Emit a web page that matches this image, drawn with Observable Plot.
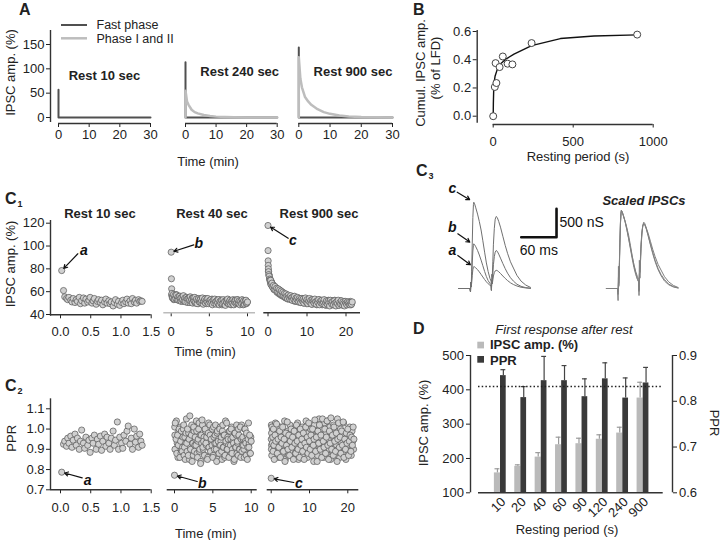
<!DOCTYPE html>
<html><head><meta charset="utf-8">
<script src="https://cdn.jsdelivr.net/npm/d3@7"></script>
<script src="https://cdn.jsdelivr.net/npm/@observablehq/plot@0.6"></script>
<style>
body{margin:0;background:#fff;}
#fig{position:relative;width:720px;height:540px;overflow:hidden;background:#fff;}
#fig svg{position:absolute;left:0;top:0;}
</style></head><body><div id="fig"></div>
<script>
// ================= DATA =================
// Panel A
const aTitles = ["Rest 10 sec", "Rest 240 sec", "Rest 900 sec"];
const aTicks = [0, 10, 20, 30];
const aYTicks = [0, 50, 100, 150];
const fastT = [0, 0, 30];
const fast10 = [57, 0, 0];
const fast240 = [113.5, 0, 0];
const fast900 = [144, 0, 0];
const phaseT = [0, 0, 0.5, 1, 2, 3, 4, 6, 8, 10, 13, 16, 20, 25, 30];
const phase240 = [0, 55, 33, 26, 16, 11, 8.5, 5, 3, 1.8, 0.9, 0.4, 0.1, 0, 0];
const phase900 = [0, 124, 80, 62, 42, 33, 26, 17, 11, 7.5, 4, 2, 0.8, 0.3, 0];

// Panel B
const restB = [0, 10, 15, 20, 40, 60, 90, 120, 240, 900];
const cumB = [0, 0.207, 0.376, 0.235, 0.348, 0.423, 0.372, 0.367, 0.518, 0.578];
const fitT = [0, 1, 3, 6, 12, 25, 45, 80, 130, 240, 420, 630, 900];
const fitV = [0, 0.09, 0.18, 0.24, 0.285, 0.33, 0.37, 0.405, 0.44, 0.5, 0.55, 0.568, 0.576];

// Panel C1 / C2 : time (min)
const t10 = [0.02, 0.05, 0.07, 0.10, 0.12, 0.14, 0.17, 0.19, 0.21, 0.24,
  0.26, 0.28, 0.31, 0.33, 0.35, 0.38, 0.40, 0.42, 0.45, 0.47,
  0.49, 0.52, 0.54, 0.56, 0.59, 0.61, 0.63, 0.66, 0.68, 0.70,
  0.73, 0.75, 0.77, 0.80, 0.82, 0.84, 0.87, 0.89, 0.91, 0.94,
  0.96, 0.98, 1.01, 1.03, 1.05, 1.08, 1.10, 1.12, 1.15, 1.17,
  1.19, 1.22, 1.24, 1.26, 1.29, 1.31, 1.33, 1.35];
const ampR10 = [78.5, 61, 55.5, 54, 53, 55, 52.5, 51, 54, 50.5,
  53, 51.5, 55, 49.5, 52, 54.5, 50, 53.5, 51, 52.5,
  55, 50, 52, 54, 49, 51.5, 53, 50.5, 52.5, 48.5,
  51, 53.5, 50, 52, 49.5, 51, 47.5, 50.5, 53, 49,
  51.5, 48, 50.5, 52.5, 49.5, 51, 53.5, 50, 52, 49.5,
  54, 51, 52.5, 50, 53, 51.5, 52, 51.5];
const pprR10 = [0.787, 0.925, 0.94, 0.915, 0.955, 0.93, 0.965, 0.91, 0.945, 0.975,
  0.92, 0.955, 0.9, 0.94, 0.995, 0.93, 0.905, 0.96, 0.92, 0.945,
  0.885, 0.955, 0.93, 0.97, 0.9, 0.95, 0.925, 0.965, 0.895, 0.94,
  0.975, 0.915, 0.96, 0.93, 0.9, 0.955, 0.99, 0.92, 0.945, 1.035,
  0.9, 0.96, 0.93, 0.905, 0.97, 0.94, 0.99, 1.015, 0.925, 0.955,
  0.9, 1.0, 0.935, 0.965, 0.91, 0.975, 0.94, 0.92];

const t40 = [0, 0.03, 0.06, 0.1, 0.2, 0.3, 0.4, 0.5, 0.6, 0.7,
  0.8, 0.9, 1.0, 1.1, 1.2, 1.3, 1.4, 1.5, 1.6, 1.7,
  1.8, 1.9, 2.0, 2.1, 2.2, 2.3, 2.4, 2.5, 2.6, 2.7,
  2.8, 2.9, 3.0, 3.1, 3.2, 3.3, 3.4, 3.5, 3.6, 3.7,
  3.8, 3.9, 4.0, 4.1, 4.2, 4.3, 4.4, 4.5, 4.6, 4.7,
  4.8, 4.9, 5.0, 5.1, 5.2, 5.3, 5.4, 5.5, 5.6, 5.7,
  5.8, 5.9, 6.0, 6.1, 6.2, 6.3, 6.4, 6.5, 6.6, 6.7,
  6.8, 6.9, 7.0, 7.1, 7.2, 7.3, 7.4, 7.5, 7.6, 7.7,
  7.8, 7.9, 8.0, 8.1, 8.2, 8.3, 8.4, 8.5, 8.6, 8.7,
  8.8, 8.9, 9.0, 9.1, 9.2, 9.3, 9.4, 9.5, 9.6, 9.7,
  9.8, 9.9, 10.0];
const ampR40 = [94.6, 71.3, 62.5, 58.5, 55, 57.5, 53.5, 56.5, 54, 57,
  53, 55.5, 52.5, 56, 54, 51.5, 55, 53, 56.5, 52,
  54.5, 51, 55, 53.5, 50.5, 54, 52.5, 55.5, 51.5, 53,
  50, 54.5, 52, 55, 51, 53.5, 49.5, 52.5, 54, 51,
  53, 50.5, 52, 54.5, 49, 51.5, 53.5, 50, 52.5, 51,
  54, 49.5, 52, 50.5, 53, 51, 48.5, 52.5, 50, 53.5,
  51, 49, 52, 50.5, 53, 48.5, 51.5, 50, 52.5, 49.5,
  53, 50, 51.5, 48, 52, 50.5, 53.5, 49.5, 51, 52.5,
  49, 51.5, 50, 53, 48.5, 51, 52.5, 49.5, 50.5, 53,
  50, 52, 48.5, 51.5, 49.5, 53, 50.5, 52, 49, 51.5,
  52.5, 50, 51];
const pprR40 = [0.772, 1.01, 0.9, 1.03, 0.95, 0.88, 0.97, 0.92, 1.0, 0.86,
  0.94, 0.99, 0.89, 0.96, 1.02, 0.91, 0.85, 0.98, 0.93, 1.0,
  0.87, 0.95, 1.065, 0.9, 0.97, 0.84, 0.93, 1.01, 0.89, 0.96,
  0.92, 0.99, 0.86, 0.95, 1.03, 0.9, 0.83, 0.97, 1.045, 0.91,
  0.94, 0.87, 1.0, 0.93, 0.96, 0.85, 0.98, 0.91, 1.02, 0.89,
  0.95, 0.92, 0.86, 1.01, 0.9, 0.97, 0.93, 0.84, 0.99, 0.94,
  0.88, 1.0, 0.92, 0.96, 0.85, 1.02, 0.91, 0.97, 0.87, 0.94,
  1.03, 0.9, 0.95, 0.86, 0.99, 0.92, 1.0, 0.88, 0.96, 0.93,
  0.85, 0.98, 0.91, 1.02, 0.94, 0.87, 0.97, 0.9, 1.01, 0.95,
  0.89, 0.96, 0.92, 0.86, 1.0, 0.93, 0.98, 0.85, 0.95, 0.91,
  0.97, 0.88, 0.94];
// second interleaved sweep set (rest 40)
const t40b = [0.05, 0.15, 0.25, 0.35, 0.45, 0.55, 0.65, 0.75, 0.85, 0.95,
  1.05, 1.15, 1.25, 1.35, 1.45, 1.55, 1.65, 1.75, 1.85, 1.95,
  2.05, 2.15, 2.25, 2.35, 2.45, 2.55, 2.65, 2.75, 2.85, 2.95,
  3.05, 3.15, 3.25, 3.35, 3.45, 3.55, 3.65, 3.75, 3.85, 3.95,
  4.05, 4.15, 4.25, 4.35, 4.45, 4.55, 4.65, 4.75, 4.85, 4.95,
  5.05, 5.15, 5.25, 5.35, 5.45, 5.55, 5.65, 5.75, 5.85, 5.95,
  6.05, 6.15, 6.25, 6.35, 6.45, 6.55, 6.65, 6.75, 6.85, 6.95,
  7.05, 7.15, 7.25, 7.35, 7.45, 7.55, 7.65, 7.75, 7.85, 7.95,
  8.05, 8.15, 8.25, 8.35, 8.45, 8.55, 8.65, 8.75, 8.85, 8.95,
  9.05, 9.15, 9.25, 9.35, 9.45, 9.55, 9.65, 9.75, 9.85, 9.95];
const ampR40b = [57, 54.5, 56, 53, 55.5, 54, 57.5, 53.5, 55, 52.5,
  54.5, 56, 52, 55, 53.5, 51.5, 54, 55.5, 52.5, 53,
  51, 54, 52.5, 55, 50.5, 53.5, 52, 54.5, 51.5, 53,
  52, 50, 54, 51.5, 53, 49.5, 52.5, 51, 54, 50.5,
  51.5, 53.5, 50, 52.5, 51, 54, 49.5, 52, 50.5, 53,
  50, 52.5, 51, 53.5, 49.5, 51.5, 52, 50, 53, 51,
  52.5, 49.5, 51, 53, 50, 52, 48.5, 51.5, 50.5, 52.5,
  49, 51.5, 52.5, 50, 53, 49.5, 51, 52, 48.5, 51.5,
  52, 50, 49, 52.5, 51, 50.5, 53, 49.5, 51.5, 50,
  51.5, 49, 52.5, 50.5, 48.5, 52, 50, 51.5, 49.5, 51];
const pprR40b = [0.97, 0.9, 1.04, 0.93, 0.86, 0.99, 0.92, 1.01, 0.88, 0.95,
  0.91, 1.0, 0.87, 0.96, 0.93, 1.05, 0.89, 0.94, 0.98, 0.85,
  0.96, 0.9, 1.02, 0.93, 0.87, 0.99, 0.92, 0.95, 1.04, 0.88,
  0.94, 1.0, 0.89, 0.97, 0.84, 0.93, 1.02, 0.9, 0.96, 0.87,
  0.99, 0.92, 0.95, 0.86, 1.03, 0.91, 0.97, 0.89, 0.94, 1.0,
  0.87, 0.96, 0.93, 1.02, 0.9, 0.98, 0.85, 0.95, 0.92, 1.01,
  0.94, 0.89, 0.99, 0.91, 0.97, 0.86, 1.04, 0.93, 0.9, 0.96,
  0.92, 0.99, 0.87, 0.95, 1.01, 0.9, 0.94, 0.84, 0.98, 0.91,
  0.97, 0.88, 0.93, 1.0, 0.9, 0.96, 0.86, 1.02, 0.92, 0.95,
  0.9, 1.0, 0.94, 0.87, 0.97, 0.91, 1.03, 0.93, 0.88, 0.96];

const t900 = [0, 0.02, 0.04, 0.06, 0.1, 0.15, 0.2, 0.3, 0.4, 0.5,
  0.6, 0.7, 0.8, 1.0, 1.2, 1.4, 1.6, 1.8, 2.0, 2.2,
  2.4, 2.6, 2.8, 3.0, 3.2, 3.4, 3.6, 3.8, 4.0, 4.2,
  4.4, 4.6, 4.8, 5.0, 5.2, 5.4, 5.6, 5.8, 6.0, 6.2,
  6.4, 6.6, 6.8, 7.0, 7.2, 7.4, 7.6, 7.8, 8.0, 8.2,
  8.4, 8.6, 8.8, 9.0, 9.2, 9.4, 9.6, 9.8, 10.0, 10.2,
  10.4, 10.6, 10.8, 11.0, 11.2, 11.4, 11.6, 11.8, 12.0, 12.2,
  12.4, 12.6, 12.8, 13.0, 13.2, 13.4, 13.6, 13.8, 14.0, 14.2,
  14.4, 14.6, 14.8, 15.0, 15.2, 15.4, 15.6, 15.8, 16.0, 16.2,
  16.4, 16.6, 16.8, 17.0, 17.2, 17.4, 17.6, 17.8, 18.0, 18.2,
  18.4, 18.6, 18.8, 19.0, 19.2, 19.4, 19.6, 19.8, 20.0, 20.2,
  20.4, 20.6, 20.8, 21.0, 21.2, 21.4, 21.6];
const ampR900 = [118, 96, 87, 83, 80, 77.5, 75, 73.5, 71, 70,
  68.5, 70, 66, 67.5, 64, 65.5, 62, 64.5, 61, 63,
  60, 62.5, 59, 61.5, 58, 60.5, 57, 59.5, 56.5, 58.5,
  55.5, 58, 56, 54, 57, 55, 53.5, 56.5, 54.5, 52.5,
  55.5, 53.5, 56, 52, 54.5, 53, 55, 51.5, 54, 52.5,
  50.5, 54, 52, 53.5, 50, 52.5, 54.5, 51, 53, 49.5,
  52, 54, 50.5, 52.5, 49, 53, 51.5, 50, 53.5, 51,
  49, 52, 50.5, 53, 48.5, 51.5, 50, 52.5, 49.5, 51,
  53, 48.5, 50.5, 52, 49, 51.5, 50, 47.5, 52.5, 50.5,
  49, 51.5, 48.5, 52, 50, 47.5, 51, 49.5, 52.5, 48,
  50.5, 49, 52, 48.5, 51, 49.5, 47.5, 51.5, 50, 48.5,
  51, 49.5, 50.5, 48.5, 50, 49, 51];
const pprR900 = [0.757, 0.95, 1.02, 0.9, 0.98, 0.87, 1.01, 0.93, 0.96, 0.89,
  1.0, 0.92, 0.85, 0.97, 0.94, 1.025, 0.88, 0.95, 0.91, 0.99,
  0.86, 0.96, 0.93, 1.01, 0.89, 0.95, 0.84, 0.98, 0.92, 1.035,
  0.9, 0.97, 0.87, 0.94, 1.0, 0.91, 0.96, 0.85, 0.99, 0.93,
  0.88, 1.02, 0.94, 0.9, 0.97, 0.86, 1.0, 0.92, 0.95, 0.89,
  0.98, 0.85, 0.93, 1.01, 0.91, 0.96, 0.88, 1.03, 0.94, 0.9,
  0.97, 0.87, 1.0, 0.92, 0.95, 1.045, 0.89, 0.96, 0.84, 0.99,
  0.93, 1.02, 0.9, 0.97, 0.86, 1.05, 0.94, 0.91, 1.0, 0.88,
  0.96, 1.04, 0.92, 0.85, 0.99, 0.93, 1.055, 0.9, 0.97, 0.87,
  1.01, 0.94, 0.89, 0.98, 0.84, 0.95, 1.03, 0.91, 0.96, 0.88,
  0.99, 0.92, 1.035, 0.86, 0.95, 0.9, 0.98, 0.93, 1.0, 0.87,
  0.94, 0.97, 0.89, 0.96, 0.92, 1.01, 0.95];
// second interleaved sweep set (rest 900)
const t900b = [0.1, 0.3, 0.5, 0.7, 0.9, 1.1, 1.3, 1.5, 1.7, 1.9,
  2.1, 2.3, 2.5, 2.7, 2.9, 3.1, 3.3, 3.5, 3.7, 3.9,
  4.1, 4.3, 4.5, 4.7, 4.9, 5.1, 5.3, 5.5, 5.7, 5.9,
  6.1, 6.3, 6.5, 6.7, 6.9, 7.1, 7.3, 7.5, 7.7, 7.9,
  8.1, 8.3, 8.5, 8.7, 8.9, 9.1, 9.3, 9.5, 9.7, 9.9,
  10.1, 10.3, 10.5, 10.7, 10.9, 11.1, 11.3, 11.5, 11.7, 11.9,
  12.1, 12.3, 12.5, 12.7, 12.9, 13.1, 13.3, 13.5, 13.7, 13.9,
  14.1, 14.3, 14.5, 14.7, 14.9, 15.1, 15.3, 15.5, 15.7, 15.9,
  16.1, 16.3, 16.5, 16.7, 16.9, 17.1, 17.3, 17.5, 17.7, 17.9,
  18.1, 18.3, 18.5, 18.7, 18.9, 19.1, 19.3, 19.5, 19.7, 19.9,
  20.1, 20.3, 20.5, 20.7, 20.9, 21.1, 21.3, 21.5];
const ampR900b = [78, 74.5, 71.5, 67, 68.5, 64.5, 66, 62, 64, 61.5,
  63, 59.5, 61.5, 58.5, 60.5, 57.5, 59.5, 56.5, 58.5, 57,
  55.5, 57.5, 54.5, 56.5, 55, 53.5, 56, 54, 55.5, 53,
  54.5, 52.5, 55.5, 53, 51.5, 54.5, 52, 53.5, 51, 54,
  52.5, 50.5, 53.5, 51.5, 54, 50, 52.5, 51, 53, 49.5,
  53, 51, 49.5, 52.5, 50.5, 53.5, 49, 52, 50.5, 51.5,
  50, 52.5, 48.5, 51.5, 50, 53, 49.5, 51, 52, 48.5,
  51.5, 49.5, 52.5, 50, 48, 51.5, 50.5, 52.5, 49, 51,
  50, 52, 48.5, 51, 49.5, 52.5, 50, 48, 51.5, 49.5,
  51, 48.5, 50.5, 52, 49, 50.5, 48, 51.5, 49.5, 50.5,
  49, 51, 48.5, 50.5, 49.5, 51.5, 48.5, 50];
const pprR900b = [0.92, 1.0, 0.87, 0.96, 0.91, 1.03, 0.89, 0.94, 0.98, 0.86,
  0.95, 0.9, 1.01, 0.93, 0.88, 0.97, 0.92, 1.04, 0.85, 0.96,
  0.91, 0.99, 0.87, 0.94, 1.02, 0.89, 0.96, 0.92, 0.86, 1.0,
  0.93, 0.88, 0.97, 0.91, 1.03, 0.85, 0.95, 0.99, 0.9, 0.94,
  1.01, 0.87, 0.93, 0.96, 0.89, 1.04, 0.92, 0.86, 0.98, 0.91,
  0.95, 1.0, 0.88, 0.93, 0.97, 0.84, 1.02, 0.9, 0.95, 0.99,
  0.87, 0.94, 1.05, 0.91, 0.96, 0.89, 1.0, 0.93, 0.86, 1.03,
  0.92, 0.98, 0.88, 1.04, 0.95, 0.9, 1.01, 0.85, 0.97, 0.93,
  0.89, 1.02, 0.94, 0.87, 0.99, 0.92, 1.05, 0.9, 0.96, 0.86,
  1.0, 0.93, 0.97, 0.88, 1.03, 0.91, 0.95, 0.85, 0.98, 0.92,
  0.96, 0.89, 1.01, 0.93, 0.87, 0.99, 0.94, 0.9];

// annotation letters (label position, arrow start, target point)
const notesC1 = [
  {label: "a", lx: 0.385, ly: 96, sx: 0.286, sy: 93.2, px: 0.02, py: 78.5},
  {label: "b", lx: 3.62, ly: 102, sx: 2.96, sy: 101, px: 0, py: 94.6},
  {label: "c", lx: 6.36, ly: 104.8, sx: 5.18, sy: 106.8, px: 0, py: 118}];
const notesC2 = [
  {label: "a", lx: 0.45, ly: 0.746, sx: 0.359, sy: 0.759, px: 0.02, py: 0.787},
  {label: "b", lx: 3.61, ly: 0.73, sx: 2.96, sy: 0.741, px: 0, py: 0.772},
  {label: "c", lx: 7.2, ly: 0.73, sx: 5.9, sy: 0.736, px: 0, py: 0.757}];

// Panel C3 traces: time (ms), conductance (nS)
const traceT = [-20, -1, 0, 0.6, 1.2, 2, 3, 4, 5, 5.6,
  7, 9, 12, 15, 18, 21, 24, 27, 30, 33,
  35, 35.6, 36.2, 37, 38, 39, 40.5, 42, 43.7, 45.5,
  48, 51, 55, 59, 63, 68, 73, 79, 86, 94, 102];
const traceC = [0, 0, -60, 110, 40, 300, 800, 1250, 1480, 1519,
  1490, 1420, 1310, 1180, 1030, 840, 640, 450, 300, 180,
  130, -30, 250, 200, 480, 780, 1060, 1220, 1268, 1250,
  1180, 1080, 920, 760, 620, 470, 360, 230, 130, 60, 20];
const traceB = [0, 0, -60, 110, 30, 180, 450, 660, 760, 787,
  770, 735, 670, 590, 500, 400, 300, 210, 140, 90,
  65, -30, 150, 110, 260, 420, 560, 640, 669, 655,
  605, 535, 440, 350, 270, 190, 130, 75, 38, 15, 5];
const traceA = [0, 0, -60, 110, 25, 100, 230, 330, 375, 387,
  380, 362, 332, 292, 248, 203, 158, 118, 84, 58,
  45, -35, 140, 80, 150, 220, 280, 310, 320, 315,
  295, 265, 220, 178, 140, 100, 70, 44, 22, 10, 3];
const scaledPeak = 1373;
const notesC3 = [
  {label: "c", lx: -31, ly: 1755, sx: -22.6, sy: 1695, px: 2.9, py: 1537},
  {label: "b", lx: -31, ly: 1079, sx: -21.6, sy: 963, px: 2.9, py: 787},
  {label: "a", lx: -31, ly: 669, sx: -21.6, sy: 581, px: 3.9, py: 387}];
const scaleBarT = [86.3, 146.3, 146.3];
const scaleBarV = [903, 903, 1403];

// Panel D
const restCats = ["10", "20", "40", "60", "90", "120", "240", "900"];
const ipscAmp = [158, 177, 204, 240, 243, 256, 274, 376];
const ipscErr = [12, 4.5, 13, 22, 16, 13, 17, 46];
const pprMean = [0.856, 0.808, 0.845, 0.845, 0.810, 0.849, 0.807, 0.840];
const pprErr = [0.013, 0.024, 0.053, 0.033, 0.039, 0.035, 0.044, 0.034];
const pprControl = 0.832;

// ================= HELPERS =================
const W = 720, H = 540;
const FONT = '"Liberation Sans", Arial, Helvetica, sans-serif';
const AX = "#333";
const fig = document.getElementById("fig");
const zip = (t, v) => t.map((x, i) => ({t: x, v: v[i]}));
function inv(s, px) { return s.domain[0] + (px - s.range[0]) * (s.domain[1] - s.domain[0]) / (s.range[1] - s.range[0]); }
function hLine(xs, ys, yPx, x0, x1, stroke = AX) {
  return Plot.ruleY([{y: inv(ys, yPx), x1: inv(xs, x0), x2: inv(xs, x1)}], {y: "y", x1: "x1", x2: "x2", stroke, strokeWidth: 1.4});
}
function vLine(xs, ys, xPx, y0, y1, stroke = AX) {
  return Plot.ruleX([{x: inv(xs, xPx), y1: inv(ys, y0), y2: inv(ys, y1)}], {x: "x", y1: "y1", y2: "y2", stroke, strokeWidth: 1.4});
}
function panel({frame: [l, t, r, b], x, y, marks}) {
  const p = Plot.plot({
    width: W, height: H,
    marginLeft: l, marginTop: t, marginRight: W - r, marginBottom: H - b,
    x, y, marks,
    style: {background: "transparent", fontFamily: FONT, fontSize: "13px", color: "#222", overflow: "visible"}
  });
  fig.appendChild(p);
  return p;
}
function noteMarks(notes) {
  return [
    Plot.arrow(notes, {x1: "sx", y1: "sy", x2: "px", y2: "py", stroke: "#111", strokeWidth: 1.2, headLength: 5, insetEnd: 3}),
    Plot.text(notes, {x: "lx", y: "ly", text: "label", fontWeight: "bold", fontStyle: "italic", fontSize: 14, fill: "#111"})
  ];
}

// ================= PANEL A =================
const aX = [[58, 150], [185, 276.7], [298.3, 392]];
const aY = {domain: [0, 150], range: [117, 44]};
[[fast10, null], [fast240, phase240], [fast900, phase900]].forEach(([fv, pv], k) => {
  const xs = {domain: [0, 30], range: aX[k]};
  const left = k === 0 ? 50 : aX[k][0];
  const marks = [hLine(xs, aY, 123, aX[k][0], aX[k][1])];
  if (k === 0) marks.push(vLine(xs, aY, 50, 30, 122));
  marks.push(Plot.line(zip(fastT, fv), {x: "t", y: "v", stroke: "#505050", strokeWidth: 2}));
  if (pv) marks.push(Plot.line(zip(phaseT, pv), {x: "t", y: "v", stroke: "#bdbdbd", strokeWidth: 2.5}));
  panel({
    frame: [left, 30, aX[k][1], 123],
    x: {...xs, ticks: aTicks, tickSize: 4, tickPadding: 2, label: null},
    y: k === 0 ? {...aY, ticks: aYTicks, tickSize: 4, tickPadding: 2, label: null} : {...aY, axis: null},
    marks
  });
});

// ================= PANEL B =================
{
  const xs = {domain: [0, 1000], range: [492.7, 652.7]};
  const ys = {domain: [0, 0.6], range: [115.7, 31]};
  panel({
    frame: [476.7, 30, 652.7, 124],
    x: {...xs, ticks: [0, 500, 1000], tickFormat: "d", tickSize: 3.5, tickPadding: 9, label: null},
    y: {...ys, ticks: [0, 0.2, 0.4, 0.6], tickFormat: ".1f", tickSize: 4, tickPadding: 2, label: null},
    marks: [
      hLine(xs, ys, 124, 492.7, 652.7),
      vLine(xs, ys, 476.7, 30, 122.7),
      Plot.line(zip(fitT, fitV), {x: "t", y: "v", stroke: "#111", strokeWidth: 1.4}),
      Plot.dot(zip(restB, cumB), {x: "t", y: "v", r: 3.5, fill: "white", stroke: "#444", strokeWidth: 1})
    ]
  });
}

// ================= PANELS C1 / C2 =================
function scatter(o) {
  const marks = [hLine(o.xs, o.ys, o.frame[3], o.xLine[0], o.xLine[1], o.xLineColor || AX)];
  if (o.yLine) marks.push(vLine(o.xs, o.ys, o.frame[0], o.yLine[0], o.yLine[1]));
  marks.push(Plot.dot(o.data, {x: "t", y: "v", r: 3.1, fill: "#d0d0d0", stroke: "#555", strokeWidth: 0.7}));
  marks.push(...noteMarks([o.note]));
  panel({
    frame: o.frame,
    x: {...o.xs, ticks: o.xticks, tickFormat: o.xfmt, tickSize: 4, tickPadding: o.xpad, label: null},
    y: o.yaxis ? {...o.ys, ticks: o.yticks, tickFormat: o.yfmt, tickSize: 4, tickPadding: 2, label: null} : {...o.ys, axis: null},
    marks
  });
}
const merge = (a, b) => { const out = []; const n = Math.max(a.length, b.length); for (let i = 0; i < n; i++) { if (i < a.length) out.push(a[i]); if (i < b.length) out.push(b[i]); } return out; };
const c1Y = {domain: [40, 120], range: [314, 222.7]};
scatter({frame: [50, 220, 150.7, 314.3], xs: {domain: [0, 1.5], range: [60, 150.7]}, ys: c1Y,
  xticks: [0, 0.5, 1, 1.5], xfmt: ".1f", xpad: 8, yaxis: true, yticks: [40, 60, 80, 100, 120],
  xLine: [50, 150.7], yLine: [220, 315.7], data: zip(t10, ampR10), note: notesC1[0]});
scatter({frame: [163.3, 220, 255, 312.3], xs: {domain: [0, 10], range: [170.7, 247]}, ys: c1Y,
  xticks: [0, 5, 10], xpad: 10, xLine: [163.3, 255], xLineColor: "#bbb",
  data: merge(zip(t40, ampR40), zip(t40b, ampR40b)), note: notesC1[1]});
scatter({frame: [263.3, 220, 360, 312.3], xs: {domain: [0, 20], range: [267.5, 345.5]}, ys: c1Y,
  xticks: [0, 10, 20], xpad: 10, xLine: [263.3, 360],
  data: merge(zip(t900, ampR900), zip(t900b, ampR900b)), note: notesC1[2]});

const c2Y = {domain: [0.7, 1.1], range: [489.3, 408.3]};
scatter({frame: [50, 398.3, 150.7, 489.3], xs: {domain: [0, 1.5], range: [60, 150.7]}, ys: c2Y,
  xticks: [0, 0.5, 1, 1.5], xfmt: ".1f", xpad: 9, yaxis: true, yticks: [0.7, 0.8, 0.9, 1.0, 1.1], yfmt: ".1f",
  xLine: [50, 150.7], yLine: [398.3, 490], data: zip(t10, pprR10), note: notesC2[0]});
scatter({frame: [166.7, 398.3, 256.7, 489.3], xs: {domain: [0, 10], range: [174, 250.7]}, ys: c2Y,
  xticks: [0, 5, 10], xpad: 9, xLine: [166.7, 256.7],
  data: merge(zip(t40, pprR40), zip(t40b, pprR40b)), note: notesC2[1]});
scatter({frame: [266.7, 398.3, 358.3, 489.3], xs: {domain: [0, 20], range: [270.7, 347.3]}, ys: c2Y,
  xticks: [0, 10, 20], xpad: 9, xLine: [266.7, 358.3],
  data: merge(zip(t900, pprR900), zip(t900b, pprR900b)), note: notesC2[2]});

// ================= PANEL C3 =================
{
  const rightOffset = 251;
  const traces = [traceA, traceB, traceC];
  const marks = [];
  traces.forEach(tr => marks.push(Plot.line(zip(traceT, tr), {x: "t", y: "v", stroke: "#707070", strokeWidth: 1})));
  traces.forEach(tr => {
    const k = scaledPeak / d3.max(tr);
    marks.push(Plot.line(traceT.map((t, i) => ({t: t + rightOffset, v: tr[i] * k})), {x: "t", y: "v", stroke: "#808080", strokeWidth: 1}));
  });
  marks.push(Plot.line(zip(scaleBarT, scaleBarV), {x: "t", y: "v", stroke: "#111", strokeWidth: 2.6}));
  marks.push(Plot.text([{t: scaleBarT[2], v: (scaleBarV[1] + scaleBarV[2]) / 2}], {x: "t", y: "v", text: () => "500 nS", textAnchor: "start", dx: 3, fontSize: 14, fill: "#111"}));
  marks.push(Plot.text([{t: (scaleBarT[0] + scaleBarT[1]) / 2, v: scaleBarV[0]}], {x: "t", y: "v", text: () => "60 ms", dy: 13.5, fontSize: 14, fill: "#111"}));
  marks.push(...noteMarks(notesC3));
  panel({frame: [440, 150, 700, 300], x: {domain: [0, 100], range: [470, 528.8], axis: null},
    y: {domain: [0, 1000], range: [288, 231.2], axis: null}, marks});
}

// ================= PANEL D =================
{
  const rows = restCats.map((c, i) => ({i, c, amp: ipscAmp[i], ampE: ipscErr[i], ppr: pprMean[i], pprE: pprErr[i]}));
  const dX = {domain: [0, 7], range: [500, 642.7]};
  const dYL = {domain: [100, 500], range: [492.3, 355]};
  const dYR = {domain: [0.6, 0.9], range: [492.3, 355]};
  const frame = [470, 355, 672, 492.3];
  panel({frame, x: {...dX, axis: null},
    y: {...dYL, ticks: [100, 200, 300, 400, 500], tickSize: 4, tickPadding: 2.5, label: null},
    marks: [
      Plot.rect(rows, {x1: d => d.i - 0.3, x2: d => d.i, y1: () => dYL.domain[0], y2: "amp", fill: "#bababa"}),
      Plot.ruleX(rows, {x: d => d.i - 0.15, y1: "amp", y2: d => d.amp + d.ampE, stroke: "#9a9a9a", strokeWidth: 1.2}),
      Plot.ruleY(rows, {y: d => d.amp + d.ampE, x1: d => d.i - 0.27, x2: d => d.i - 0.03, stroke: "#9a9a9a", strokeWidth: 1.2}),
      hLine(dX, dYL, 492.3, 478, 662.7),
      vLine(dX, dYL, 470, 355, 492.3),
      Plot.text(rows, {x: "i", y: () => dYL.domain[0], text: "c", rotate: -45, textAnchor: "end", dx: 3, dy: 7, fontSize: 13, fill: "#222"})
    ]});
  panel({frame, x: {...dX, axis: null},
    y: {...dYR, axis: "right", ticks: [0.6, 0.7, 0.8, 0.9], tickFormat: ".1f", tickSize: 4, tickPadding: 2.5, label: null},
    marks: [
      Plot.rect(rows, {x1: "i", x2: d => d.i + 0.28, y1: () => dYR.domain[0], y2: "ppr", fill: "#3a3a3a"}),
      Plot.ruleX(rows, {x: d => d.i + 0.14, y1: "ppr", y2: d => d.ppr + d.pprE, stroke: "#444", strokeWidth: 1.2}),
      Plot.ruleY(rows, {y: d => d.ppr + d.pprE, x1: d => d.i + 0.02, x2: d => d.i + 0.26, stroke: "#444", strokeWidth: 1.2}),
      Plot.ruleY([{y: pprControl, x1: inv(dX, 478), x2: inv(dX, 662.7)}], {y: "y", x1: "x1", x2: "x2", stroke: "#222", strokeWidth: 1.5, strokeDasharray: "1.5,2.2"}),
      vLine(dX, dYR, 672, 355, 492.3)
    ]});
}

// ================= TEXT / LEGENDS =================
const ann = d3.create("svg").attr("width", W).attr("height", H)
  .attr("font-family", FONT).attr("fill", "#222");
function T(x, y, s, o = {}) {
  const e = ann.append("text").attr("x", x).attr("y", y).text(s)
    .attr("font-size", o.size || 13).attr("text-anchor", o.anchor || "start");
  if (o.bold) e.attr("font-weight", "bold");
  if (o.italic) e.attr("font-style", "italic");
  if (o.rot != null) e.attr("transform", `rotate(${o.rot},${x},${y})`);
  return e;
}
// panel letters
T(19, 14.5, "A", {size: 16, bold: true});
T(413, 14.5, "B", {size: 16, bold: true});
T(5, 204, "C", {size: 16, bold: true}); T(17.5, 207, "1", {size: 9, bold: true});
T(5, 391, "C", {size: 16, bold: true}); T(17.5, 394, "2", {size: 9, bold: true});
T(416, 176, "C", {size: 16, bold: true}); T(428.5, 179, "3", {size: 9, bold: true});
T(413, 334, "D", {size: 16, bold: true});
// Panel A
ann.append("line").attr("x1", 61).attr("x2", 87).attr("y1", 25).attr("y2", 25).attr("stroke", "#505050").attr("stroke-width", 2);
ann.append("line").attr("x1", 61).attr("x2", 87).attr("y1", 38.3).attr("y2", 38.3).attr("stroke", "#bdbdbd").attr("stroke-width", 2.5);
T(96.5, 29.3, "Fast phase", {size: 12.5});
T(96.5, 42.8, "Phase I and II", {size: 12.5});
T(14.5, 72.5, "IPSC amp. (%)", {rot: -90, anchor: "middle"});
T(104.5, 80, aTitles[0], {bold: true, anchor: "middle"});
T(239.7, 76, aTitles[1], {bold: true, anchor: "middle"});
T(353, 76, aTitles[2], {bold: true, anchor: "middle"});
T(208, 166, "Time (min)", {anchor: "middle"});
// Panel B
T(424.5, 73, "Cumul. IPSC amp.", {rot: -90, anchor: "middle"});
T(439.5, 68, "(% of LFD)", {rot: -90, anchor: "middle"});
T(578, 160.5, "Resting period (s)", {anchor: "middle"});
// Panel C1/C2
T(100, 218, "Rest 10 sec", {bold: true, anchor: "middle"});
T(212, 218, "Rest 40 sec", {bold: true, anchor: "middle"});
T(319, 218, "Rest 900 sec", {bold: true, anchor: "middle"});
T(14.5, 264, "IPSC amp. (%)", {rot: -90, anchor: "middle"});
T(205, 356, "Time (min)", {anchor: "middle"});
T(16, 438.3, "PPR", {rot: -90, anchor: "middle"});
T(205.8, 537.5, "Time (min)", {anchor: "middle"});
// Panel C3
T(644, 205, "Scaled IPSCs", {bold: true, italic: true, anchor: "middle"});
// Panel D
T(564, 334, "First response after rest", {italic: true, anchor: "middle"});
ann.append("rect").attr("x", 477.3).attr("y", 341.7).attr("width", 6.7).attr("height", 6.7).attr("fill", "#bababa");
ann.append("rect").attr("x", 477.3).attr("y", 356).attr("width", 6.7).attr("height", 6.7).attr("fill", "#3a3a3a");
T(490, 349.3, "IPSC amp. (%)", {bold: true});
T(490, 364.5, "PPR", {bold: true});
T(428, 423, "IPSC amp. (%)", {rot: -90, anchor: "middle"});
T(709.5, 423, "PPR", {rot: 90, anchor: "middle"});
T(567, 533.5, "Resting period (s)", {anchor: "middle"});
fig.appendChild(ann.node());
</script></body></html>
